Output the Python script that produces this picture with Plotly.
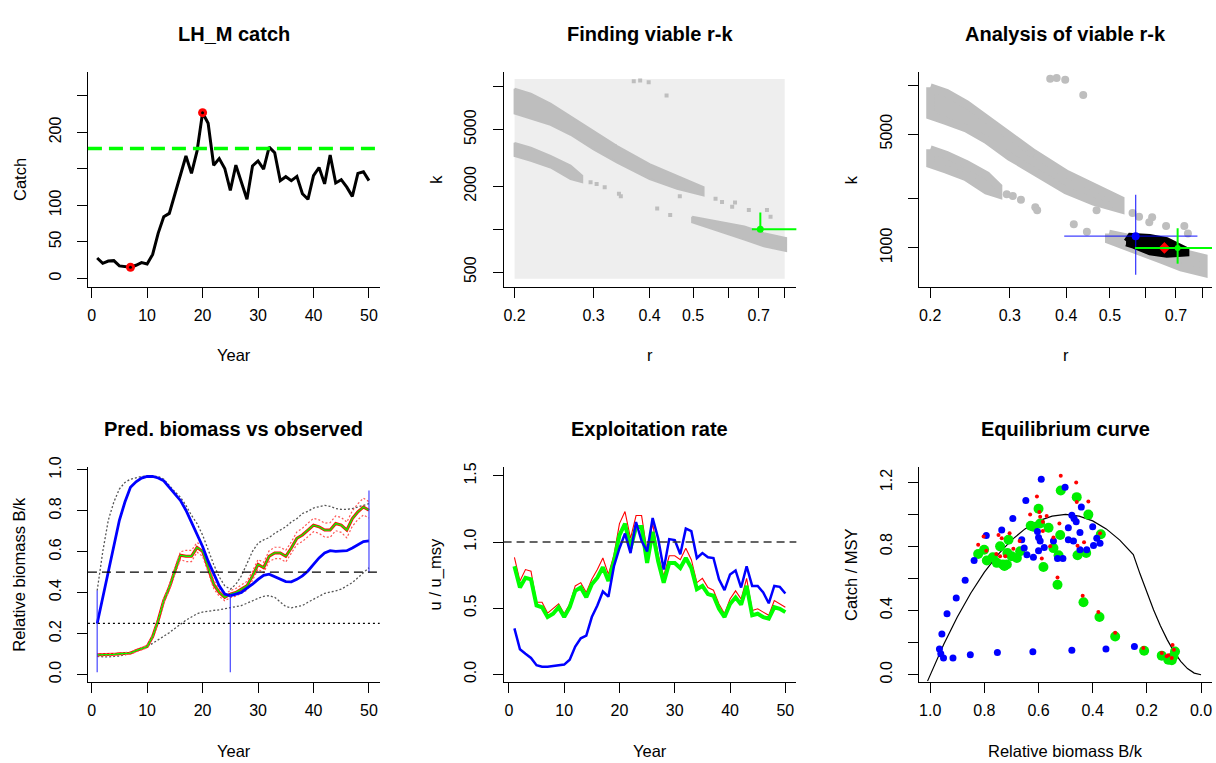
import plotly.graph_objects as go

# ---------------- data ----------------
years = list(range(1, 51))

catch = [27.9, 20.7, 23.8, 24.3, 17.1, 16.2, 15.3, 18.0, 21.6, 19.8,
         32.8, 62.0, 84.5, 89.0, 116.0, 143.0, 167.6, 143.8, 174.3, 226.9,
         212.5, 155.0, 164.0, 150.5, 120.4, 155.0, 131.6, 108.3, 154.0, 160.8,
         149.6, 179.7, 172.0, 133.9, 139.3, 133.9, 139.7, 115.9, 108.3, 140.6,
         151.8, 129.4, 169.0, 130.7, 135.2, 124.9, 112.3, 143.8, 146.0, 133.9]
msy_catch = 177.9

prior_r = [0.2, 0.8]
prior_k = [450, 11300]

band_up_r = [0.2, 0.2174, 0.2405, 0.2666, 0.3, 0.3386, 0.4, 0.4605, 0.5276]
band_up_khi = [9674, 8930, 7620, 6170, 4860, 3830, 2857, 2377, 1972]
band_up_klo = [6490, 6000, 5400, 4600, 3625, 2935, 2250, 1920, 1728]

band_lo1_r = [0.2, 0.2174, 0.2405, 0.2666, 0.283]
band_lo1_khi = [4035, 3725, 3266, 2797, 2377]
band_lo1_klo = [3266, 3015, 2710, 2250, 2135]

band_lo2_r = [0.4975, 0.5753, 0.6504, 0.7188, 0.806]
band_lo2_khi = [1224, 1130, 1044, 939, 867]
band_lo2_klo = [1118, 964, 845, 760, 702]

iso_r = [0.2954, 0.3047, 0.3176, 0.3417, 0.345, 0.4158, 0.4445, 0.467, 0.511, 0.561,
         0.58, 0.611, 0.62, 0.6656, 0.7305, 0.744, 0.3687, 0.381, 0.398, 0.4363, 0.334]
iso_k = [2135, 2080, 1972, 1774, 1700, 1397, 1256, 1702, 1871, 1637,
         1553, 1435, 1540, 1362, 1362, 1224, 10940, 11050, 10760, 8690, 3830]

blk_r = [0.5428, 0.554, 0.6126, 0.668, 0.74, 0.74, 0.668, 0.6126, 0.5636, 0.5428]
blk_k = [1098, 1193, 1177, 1124, 978, 920, 903, 933, 1024, 1057]

ref_r, ref_k = 0.706, 1000
ref_r_lo, ref_r_hi = 0.676, 0.95
ref_k_lo, ref_k_hi = 985, 1312
ref3_r_lo, ref3_k_lo, ref3_k_hi = 0.568, 800, 1321
bay_r, bay_k = 0.570, 1181
bay_r_lo, bay_r_hi = 0.396, 0.781
bay_k_lo, bay_k_hi = 684, 2119
mc_r, mc_k = 0.66, 1000
mc_r_lo, mc_r_hi = 0.573, 0.705

bk_obs = [0.249, 0.377, 0.514, 0.642, 0.754, 0.843, 0.915, 0.942, 0.960, 0.968,
          0.968, 0.961, 0.947, 0.915, 0.883, 0.851, 0.803, 0.746, 0.690, 0.626,
          0.554, 0.490, 0.433, 0.393, 0.385, 0.393, 0.401, 0.422, 0.441, 0.465,
          0.485, 0.490, 0.477, 0.465, 0.454, 0.453, 0.465, 0.482, 0.506, 0.538,
          0.570, 0.594, 0.605, 0.602, 0.602, 0.605, 0.618, 0.634, 0.650, 0.653]
bk_obs_hi = [0.41, 0.60, 0.754, 0.843, 0.907, 0.939, 0.955, 0.963, 0.968, 0.971,
             0.971, 0.968, 0.955, 0.923, 0.894, 0.867, 0.827, 0.778, 0.738, 0.682,
             0.61, 0.538, 0.477, 0.433, 0.417, 0.441, 0.482, 0.538, 0.602, 0.642,
             0.658, 0.669, 0.69, 0.706, 0.722, 0.746, 0.762, 0.787, 0.798, 0.814,
             0.822, 0.827, 0.822, 0.811, 0.807, 0.807, 0.811, 0.819, 0.827, 0.835]
bk_obs_lo = [0.088, 0.085, 0.085, 0.088, 0.09, 0.096, 0.104, 0.116, 0.128, 0.136,
             0.152, 0.169, 0.185, 0.204, 0.225, 0.246, 0.265, 0.281, 0.297, 0.305,
             0.31, 0.313, 0.316, 0.321, 0.326, 0.332, 0.337, 0.348, 0.361, 0.372,
             0.382, 0.385, 0.377, 0.353, 0.332, 0.326, 0.332, 0.337, 0.353, 0.369,
             0.382, 0.396, 0.401, 0.409, 0.417, 0.433, 0.449, 0.473, 0.498, 0.522]
bk_med = [0.096, 0.096, 0.096, 0.098, 0.101, 0.104, 0.104, 0.116, 0.125, 0.136,
          0.185, 0.265, 0.361, 0.425, 0.506, 0.583, 0.578, 0.578, 0.621, 0.602,
          0.522, 0.441, 0.401, 0.377, 0.393, 0.401, 0.417, 0.433, 0.482, 0.538,
          0.522, 0.578, 0.594, 0.594, 0.578, 0.618, 0.666, 0.682, 0.706, 0.730,
          0.722, 0.706, 0.706, 0.738, 0.730, 0.706, 0.762, 0.795, 0.819, 0.803]
bk_med_hi = [0.10, 0.10, 0.10, 0.102, 0.105, 0.108, 0.109, 0.121, 0.131, 0.142,
             0.19, 0.272, 0.37, 0.437, 0.52, 0.60, 0.607, 0.607, 0.645, 0.63,
             0.545, 0.46, 0.42, 0.393, 0.41, 0.42, 0.438, 0.455, 0.505, 0.562,
             0.548, 0.605, 0.622, 0.622, 0.607, 0.648, 0.697, 0.715, 0.74, 0.763,
             0.756, 0.74, 0.742, 0.775, 0.768, 0.745, 0.80, 0.835, 0.862, 0.845]
bk_med_lo = [0.09, 0.09, 0.09, 0.092, 0.095, 0.098, 0.099, 0.110, 0.119, 0.130,
             0.178, 0.256, 0.35, 0.41, 0.49, 0.562, 0.552, 0.552, 0.598, 0.578,
             0.50, 0.42, 0.382, 0.36, 0.375, 0.383, 0.398, 0.412, 0.46, 0.515,
             0.498, 0.552, 0.566, 0.566, 0.55, 0.59, 0.636, 0.65, 0.674, 0.698,
             0.69, 0.672, 0.671, 0.703, 0.695, 0.668, 0.725, 0.757, 0.78, 0.765]
prior_years = [1, 25, 50]
prior_bk_lo = [0.01, 0.01, 0.5]
prior_bk_hi = [0.41, 0.39, 0.9]

u_obs = [0.347, 0.19, 0.156, 0.124, 0.069, 0.057, 0.057, 0.062, 0.067, 0.074,
         0.111, 0.21, 0.272, 0.292, 0.433, 0.52, 0.626, 0.587, 0.817, 0.953,
         1.064, 0.916, 1.151, 1.007, 0.928, 1.181, 1.027, 0.792, 1.022, 1.015,
         0.908, 1.101, 1.082, 0.879, 0.916, 0.884, 0.879, 0.718, 0.636, 0.755,
         0.785, 0.656, 0.817, 0.668, 0.668, 0.619, 0.537, 0.668, 0.661, 0.611]
u_med = [0.817, 0.656, 0.73, 0.718, 0.52, 0.507, 0.433, 0.458, 0.507, 0.433,
         0.507, 0.631, 0.656, 0.582, 0.681, 0.73, 0.809, 0.705, 0.854, 1.052,
         1.139, 0.953, 1.114, 1.114, 0.842, 1.077, 0.854, 0.693, 0.842, 0.842,
         0.804, 0.879, 0.804, 0.644, 0.668, 0.606, 0.594, 0.495, 0.433, 0.532,
         0.582, 0.527, 0.668, 0.446, 0.458, 0.433, 0.421, 0.507, 0.495, 0.47]
u_hi = [0.884, 0.705, 0.792, 0.78, 0.545, 0.545, 0.463, 0.495, 0.532, 0.458,
        0.532, 0.668, 0.693, 0.619, 0.718, 0.792, 0.879, 0.755, 0.903, 1.139,
        1.23, 1.027, 1.2, 1.2, 0.928, 1.139, 0.903, 0.743, 0.896, 0.896,
        0.866, 0.953, 0.866, 0.693, 0.725, 0.656, 0.636, 0.532, 0.458, 0.569,
        0.631, 0.569, 0.725, 0.483, 0.495, 0.47, 0.446, 0.557, 0.532, 0.507]

eq_bk = [1.01, 1.0, 0.95, 0.9, 0.85, 0.8, 0.75, 0.7, 0.65, 0.6, 0.55, 0.5, 0.45, 0.4,
         0.35, 0.3, 0.25, 0.225, 0.2, 0.175, 0.15, 0.125, 0.1, 0.075, 0.05, 0.025, 0.0]
eq_c = [-0.04, 0.0, 0.19, 0.36, 0.51, 0.64, 0.75, 0.84, 0.91, 0.96, 0.99, 1.0, 0.99, 0.96,
        0.91, 0.84, 0.75, 0.628, 0.512, 0.404, 0.306, 0.219, 0.144, 0.083, 0.038, 0.01, 0.0]

blue_bk = [0.966, 0.961, 0.951, 0.916, 0.957, 0.938, 0.904, 0.871, 0.838, 0.852,
           0.752, 0.621, 0.477, 0.351, 0.246, 0.793, 0.736, 0.695, 0.647, 0.590,
           0.502, 0.442, 0.477, 0.469, 0.461, 0.490, 0.447, 0.490, 0.471, 0.447,
           0.422, 0.397, 0.400, 0.385, 0.530, 0.510, 0.619, 0.643, 0.653, 0.662,
           0.604, 0.600, 0.594, 0.579, 0.600, 0.545, 0.373]
blue_c = [0.160, 0.131, 0.104, 0.104, 0.254, 0.381, 0.479, 0.590, 0.713, 0.125,
          0.139, 0.143, 0.152, 0.160, 0.176, 0.868, 0.903, 0.975, 1.087, 1.220,
          1.169, 1.046, 0.995, 0.975, 0.954, 0.917, 0.887, 0.842, 0.835, 0.780,
          0.780, 0.807, 0.923, 0.852, 0.725, 0.725, 0.733, 0.749, 0.790, 0.842,
          0.893, 0.856, 0.835, 0.794, 0.774, 0.835, 0.821]

green_bk = [0.823, 0.801, 0.791, 0.754, 0.732, 0.717, 0.742, 0.711, 0.715, 0.699,
            0.680, 0.668, 0.629, 0.600, 0.619, 0.594, 0.563, 0.582, 0.545, 0.530,
            0.520, 0.518, 0.526, 0.459, 0.456, 0.424, 0.416, 0.370, 0.434, 0.375,
            0.317, 0.210, 0.145, 0.121, 0.108, 0.102, 0.096, 0.114, 0.726, 0.769]
green_c = [0.753, 0.780, 0.713, 0.698, 0.688, 0.688, 0.801, 0.842, 0.760, 0.739,
           0.729, 0.770, 0.930, 1.036, 0.923, 0.944, 0.917, 0.672, 0.790, 0.561,
           0.872, 1.149, 0.745, 1.108, 0.745, 0.760, 0.999, 0.876, 0.452, 0.360,
           0.238, 0.149, 0.119, 0.094, 0.090, 0.115, 0.145, 0.100, 0.678, 0.733]

red_bk = [0.823, 0.803, 0.793, 0.756, 0.742, 0.723, 0.736, 0.707, 0.693, 0.670,
          0.606, 0.597, 0.594, 0.584, 0.584, 0.570, 0.588, 0.545, 0.530, 0.523,
          0.518, 0.461, 0.459, 0.456, 0.416, 0.432, 0.373, 0.437, 0.379, 0.317,
          0.213, 0.145, 0.127, 0.108, 0.100, 0.105, 0.121, 0.557, 0.748, 0.631]
red_c = [0.811, 0.862, 0.774, 0.753, 0.739, 0.739, 0.852, 0.882, 0.786, 0.835,
         1.112, 1.016, 0.985, 0.954, 0.897, 0.991, 0.725, 0.856, 0.606, 0.944,
         1.241, 1.200, 1.077, 0.805, 1.081, 0.827, 0.882, 0.493, 0.391, 0.262,
         0.166, 0.135, 0.115, 0.104, 0.156, 0.186, 0.121, 0.801, 0.872, 0.999]

# ---------------- layout helpers ----------------
W, H = 1216, 763
FONT = "Liberation Sans, Arial, Helvetica, sans-serif"
cols = [(87, 379), (503, 796), (919, 1212)]
rows = [(63, 281.5), (464, 682.5)]


def xdom(c):
    return [cols[c][0] / W, cols[c][1] / W]


def ydom(r):
    return [1 - rows[r][1] / H, 1 - rows[r][0] / H]


fig = go.Figure()

axis_common = dict(showline=True, linecolor="#000", linewidth=1, ticks="outside",
                   ticklen=10, tickcolor="#000", tickwidth=1, showgrid=False,
                   zeroline=False, mirror=False,
                   tickfont=dict(family=FONT, size=16, color="#000"))


def add_axes(i, c, r, xr, yr, xtv, xtt, ytv, ytt, xtype="linear", ytype="linear"):
    xn = "xaxis" if i == 1 else f"xaxis{i}"
    yn = "yaxis" if i == 1 else f"yaxis{i}"
    anchor_y = "y" if i == 1 else f"y{i}"
    anchor_x = "x" if i == 1 else f"x{i}"
    fig.layout[xn] = dict(axis_common, domain=xdom(c), range=xr, type=xtype,
                          tickvals=xtv, ticktext=xtt, anchor=anchor_y,
                          ticklabelstandoff=4)
    fig.layout[yn] = dict(axis_common, domain=ydom(r), range=yr, type=ytype,
                          tickvals=ytv, ticktext=ytt, anchor=anchor_x,
                          tickangle=-90, ticklabelstandoff=10)


yr_ticks = [0, 10, 20, 30, 40, 50]
yr_text = [str(v) for v in yr_ticks]
r_ticks = [0.2, 0.3, 0.4, 0.5, 0.6, 0.7, 0.8]
r_text = ["0.2", "0.3", "0.4", "0.5", "", "0.7", ""]

add_axes(1, 0, 0, [-0.67, 51.93], [-11.9, 282.6], yr_ticks, yr_text,
         [0, 50, 100, 150, 200, 250], ["0", "50", "100", "", "200", ""])
add_axes(2, 1, 0, [-0.7235, -0.0709], [2.594, 4.103], r_ticks, r_text,
         [500, 1000, 2000, 5000, 10000], ["500", "", "2000", "5000", ""],
         xtype="log", ytype="log")
add_axes(3, 2, 0, [-0.7233, -0.0751], [2.7595, 4.0798], r_ticks, r_text,
         [1000, 2000, 5000, 10000], ["1000", "", "5000", ""],
         xtype="log", ytype="log")
add_axes(4, 0, 1, [-0.67, 51.93], [-0.036, 1.016], yr_ticks, yr_text,
         [0, 0.2, 0.4, 0.6, 0.8, 1.0], ["0.0", "0.2", "0.4", "0.6", "0.8", "1.0"])
add_axes(5, 1, 1, [-0.958, 51.99], [-0.056, 1.569], yr_ticks, yr_text,
         [0, 0.5, 1.0, 1.5], ["0.0", "0.5", "1.0", "1.5"])
add_axes(6, 2, 1, [1.0406, -0.0406], [-0.044, 1.298],
         [1.0, 0.8, 0.6, 0.4, 0.2, 0.0], ["1.0", "0.8", "0.6", "0.4", "0.2", "0.0"],
         [0, 0.2, 0.4, 0.6, 0.8, 1.0, 1.2], ["0.0", "", "0.4", "", "0.8", "", "1.2"])


def ax(i):
    return ("x", "y") if i == 1 else (f"x{i}", f"y{i}")


def line(i, x, y, color, width, dash="solid", opacity=1.0):
    xa, ya = ax(i)
    fig.add_trace(go.Scatter(x=x, y=y, mode="lines", xaxis=xa, yaxis=ya,
                             line=dict(color=color, width=width, dash=dash),
                             opacity=opacity, hoverinfo="skip"))


def pts(i, x, y, color, size, symbol="circle"):
    xa, ya = ax(i)
    fig.add_trace(go.Scatter(x=x, y=y, mode="markers", xaxis=xa, yaxis=ya,
                             marker=dict(color=color, size=size, symbol=symbol,
                                         line=dict(width=0)),
                             hoverinfo="skip"))


def poly(i, x, y, color, width):
    xa, ya = ax(i)
    fig.add_trace(go.Scatter(x=x, y=y, mode="lines", fill="toself", fillcolor=color,
                             xaxis=xa, yaxis=ya,
                             line=dict(color=color, width=width),
                             hoverinfo="skip"))


def band(rr, khi, klo):
    return rr + rr[::-1] + [rr[0]], khi + klo[::-1] + [khi[0]]


def hline(i, yv, color, width, dash):
    xa, ya = ax(i)
    fig.add_shape(type="line", xref=f"{xa} domain", yref=ya, x0=0, x1=1, y0=yv, y1=yv,
                  line=dict(color=color, width=width, dash=dash), layer="above")


# panel 1: catch
line(1, years, catch, "#000", 3)
i_min = catch.index(min(catch))
i_max = catch.index(max(catch))
pts(1, [years[i_min], years[i_max]], [catch[i_min], catch[i_max]], "#ff0000", 9)
pts(1, [years[i_min], years[i_max]], [catch[i_min], catch[i_max]], "#000", 3)
hline(1, msy_catch, "#00ff00", 3.5, "14px,7px")

# panel 2: finding viable r-k
poly(2, [prior_r[0], prior_r[1], prior_r[1], prior_r[0], prior_r[0]],
     [prior_k[0], prior_k[0], prior_k[1], prior_k[1], prior_k[0]], "#eeeeee", 0)
for rr, khi, klo in [(band_up_r, band_up_khi, band_up_klo),
                     (band_lo1_r, band_lo1_khi, band_lo1_klo),
                     (band_lo2_r, band_lo2_khi, band_lo2_klo)]:
    bx, by = band(rr, khi, klo)
    poly(2, bx, by, "#bebebe", 2)
pts(2, iso_r, iso_k, "#bebebe", 4, "square")
line(2, [ref_r_lo, ref_r_hi], [ref_k, ref_k], "#00ff00", 2)
line(2, [ref_r, ref_r], [ref_k_lo, ref_k_hi], "#00ff00", 2)
pts(2, [ref_r], [ref_k], "#00ff00", 7)

# panel 3: analysis of viable r-k
for rr, khi, klo in [(band_up_r, band_up_khi, band_up_klo),
                     (band_lo1_r, band_lo1_khi, band_lo1_klo),
                     (band_lo2_r, band_lo2_khi, band_lo2_klo)]:
    bx, by = band(rr, khi, klo)
    poly(3, bx, by, "#bebebe", 8)
pts(3, iso_r, iso_k, "#bebebe", 8)
poly(3, blk_r, blk_k, "#000", 5)
line(3, [bay_r_lo, bay_r_hi], [bay_k, bay_k], "rgba(0,0,255,0.75)", 1.3)
line(3, [bay_r, bay_r], [bay_k_lo, bay_k_hi], "rgba(0,0,255,0.75)", 1.3)
pts(3, [bay_r], [bay_k], "#0000ff", 8)
line(3, [mc_r_lo, mc_r_hi], [mc_k, mc_k], "#ff0000", 1.5)
pts(3, [mc_r], [mc_k], "#ff0000", 9, "diamond")
line(3, [ref3_r_lo, ref_r_hi], [ref_k, ref_k], "#00ff00", 2)
line(3, [ref_r, ref_r], [ref3_k_lo, ref3_k_hi], "#00ff00", 2)
pts(3, [ref_r], [ref_k], "#00ff00", 6)

# panel 4: biomass
hline(4, 0.5, "#000", 1.2, "9px,5px")
hline(4, 0.25, "#000", 1.2, "2px,3px")
line(4, years, bk_obs_hi, "#555", 1.3, "2px,2px")
line(4, years, bk_obs_lo, "#555", 1.3, "2px,2px")
line(4, years, bk_med, "#ff0000", 3)
line(4, years, bk_med_hi, "#ff5555", 1.2, "2px,2px")
line(4, years, bk_med_lo, "#ff5555", 1.2, "2px,2px")
line(4, years, bk_med, "#00ff00", 1.3)
line(4, years, bk_obs, "#0000ff", 2.8)
for yy, lo, hi in zip(prior_years, prior_bk_lo, prior_bk_hi):
    line(4, [yy, yy], [lo, hi], "rgba(40,40,255,0.8)", 1.3)

# panel 5: exploitation
hline(5, 1.0, "#333", 1.3, "8px,5px")
line(5, years, u_hi, "#ff0000", 1.1)
line(5, years, u_med, "#00ff00", 4)
line(5, years, u_obs, "#0000ff", 2.5)

# panel 6: equilibrium curve
line(6, eq_bk, eq_c, "#000", 1.2)
pts(6, green_bk, green_c, "#00ee00", 10)
pts(6, blue_bk, blue_c, "#0000ff", 7)
pts(6, red_bk, red_c, "#ff0000", 4)

# text
titles = ["LH_M catch", "Finding viable r-k", "Analysis of viable r-k",
          "Pred. biomass vs observed", "Exploitation rate", "Equilibrium curve"]
xlabels = ["Year", "r", "r", "Year", "Year", "Relative biomass B/k"]
ylabels = ["Catch", "k", "k", "Relative biomass B/k", "u / u_msy", "Catch / MSY"]
title_y = [24, 426]
xlab_y = [351, 752.5]
ylab_x = [18.5, 434.5, 850.5]

for n in range(6):
    r, c = divmod(n, 3)
    cx = (cols[c][0] + cols[c][1]) / 2
    cy = (rows[r][0] + rows[r][1]) / 2
    fig.add_annotation(text=f"<b>{titles[n]}</b>", xref="paper", yref="paper",
                       x=cx / W, y=1 - title_y[r] / H, showarrow=False,
                       xanchor="center", yanchor="middle",
                       font=dict(family=FONT, size=20, color="#000"))
    fig.add_annotation(text=xlabels[n], xref="paper", yref="paper",
                       x=cx / W, y=1 - xlab_y[r] / H, showarrow=False,
                       xanchor="center", yanchor="middle",
                       font=dict(family=FONT, size=16.5, color="#000"))
    fig.add_annotation(text=ylabels[n], xref="paper", yref="paper",
                       x=ylab_x[c] / W, y=1 - cy / H, showarrow=False,
                       textangle=-90, xanchor="center", yanchor="middle",
                       font=dict(family=FONT, size=16.5, color="#000"))

fig.update_layout(width=W, height=H, margin=dict(l=0, r=0, t=0, b=0),
                  paper_bgcolor="white", plot_bgcolor="white", showlegend=False)

fig.write_html("out.html")
